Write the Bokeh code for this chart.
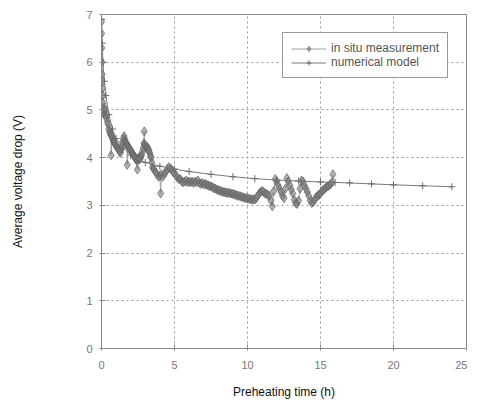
from bokeh.plotting import figure
from bokeh.models import Legend, LegendItem
from bokeh.embed import file_html
from bokeh.resources import INLINE

# in situ measurement (time in h, voltage drop in V)
t_meas = [0.00, 0.01, 0.02, 0.03, 0.04, 0.05, 0.06, 0.08, 0.10, 0.12, 0.15, 0.18, 0.20, 0.25,
          0.30, 0.35, 0.40, 0.45, 0.50, 0.55,
          0.60, 0.65, 0.66, 0.70, 0.75, 0.80, 0.85, 0.90, 0.95, 1.00, 1.05, 1.10, 1.15, 1.20,
          1.25, 1.30, 1.35, 1.40, 1.45, 1.50, 1.55, 1.60, 1.65, 1.70, 1.75, 1.76, 1.80, 1.85,
          1.90, 1.95, 2.00, 2.05, 2.10, 2.15, 2.20, 2.25, 2.30, 2.35, 2.40, 2.45, 2.46, 2.50,
          2.55, 2.60, 2.65, 2.70, 2.75, 2.80, 2.85, 2.90, 2.93, 2.95, 3.00, 3.05, 3.10, 3.15,
          3.20, 3.25, 3.30, 3.35, 3.40, 3.45, 3.50, 3.55, 3.60,
          3.70, 3.80, 3.90,
          4.00, 4.05, 4.10, 4.20, 4.30, 4.40, 4.50, 4.60, 4.70, 4.80, 4.90, 5.00, 5.10, 5.20, 5.30,
          5.40, 5.50, 5.60, 5.70, 5.80, 5.90, 6.00, 6.10, 6.20, 6.30, 6.40, 6.50, 6.60, 6.70, 6.80,
          6.90, 7.00, 7.10, 7.20, 7.30, 7.40, 7.50, 7.60, 7.70, 7.80, 7.90, 8.00, 8.10, 8.20, 8.30,
          8.40, 8.50, 8.60, 8.70, 8.80, 8.90, 9.00, 9.10, 9.20, 9.30, 9.40, 9.50, 9.60, 9.70, 9.80,
          9.90, 10.00, 10.10, 10.20, 10.30, 10.40, 10.50, 10.60, 10.70, 10.80, 10.90, 11.00, 11.10,
          11.20, 11.30, 11.40, 11.50, 11.60, 11.70, 11.80, 11.90, 12.00, 12.10, 12.20, 12.30, 12.40,
          12.50, 12.60, 12.70, 12.80, 12.90, 13.00, 13.10, 13.20, 13.30, 13.40, 13.50, 13.60, 13.70,
          13.80, 13.90, 14.00, 14.10, 14.20, 14.30, 14.40, 14.50, 14.60, 14.70, 14.80, 14.90, 15.00,
          15.10, 15.20, 15.30, 15.40, 15.50, 15.60, 15.70, 15.80, 15.85]
v_meas = [6.85, 6.60, 6.30, 6.00, 5.75, 5.60, 5.45, 5.30, 5.15, 5.00, 4.95, 5.05, 4.90, 5.00,
          4.85, 4.90, 4.75, 4.70, 4.60, 4.55,
          4.50, 4.47, 4.05, 4.45, 4.40, 4.35, 4.33, 4.30, 4.28, 4.25, 4.22, 4.20, 4.18, 4.15,
          4.12, 4.10, 4.18, 4.25, 4.33, 4.40, 4.45, 4.38, 4.33, 4.30, 4.28, 3.85, 4.25, 4.22,
          4.20, 4.18, 4.15, 4.12, 4.10, 4.08, 4.05, 4.02, 4.00, 3.97, 3.95, 3.93, 3.75, 3.98,
          4.00, 3.96, 3.98, 4.02, 4.06, 4.12, 4.20, 4.30, 4.55, 4.28, 4.25, 4.22, 4.20, 4.22,
          4.18, 4.15, 4.10, 4.05, 4.00, 3.90, 3.80, 3.77, 3.75,
          3.70, 3.65, 3.60,
          3.62, 3.25, 3.65, 3.60, 3.65, 3.70, 3.75, 3.80, 3.78, 3.75, 3.70, 3.68, 3.62, 3.58, 3.55,
          3.55, 3.50, 3.48, 3.50, 3.52, 3.48, 3.50, 3.48, 3.50, 3.47, 3.50, 3.48, 3.52, 3.47, 3.45,
          3.47, 3.44, 3.45, 3.43, 3.42, 3.40, 3.40, 3.38, 3.36, 3.35, 3.33, 3.32, 3.30, 3.30, 3.28,
          3.28, 3.27, 3.26, 3.27, 3.25, 3.25, 3.24, 3.23, 3.22, 3.20, 3.20, 3.19, 3.18, 3.17, 3.16,
          3.15, 3.15, 3.14, 3.13, 3.12, 3.13, 3.12, 3.15, 3.20, 3.25, 3.28, 3.30, 3.28,
          3.25, 3.24, 3.22, 3.20, 3.10, 2.98, 3.30, 3.55, 3.50, 3.42, 3.35, 3.28, 3.20,
          3.15, 3.35, 3.57, 3.50, 3.42, 3.33, 3.25, 3.12, 3.05, 3.03, 3.10, 3.35, 3.52,
          3.50, 3.42, 3.35, 3.28, 3.20, 3.10, 3.05, 3.07, 3.12, 3.17, 3.20, 3.22, 3.25,
          3.30, 3.32, 3.35, 3.38, 3.40, 3.42, 3.45, 3.48, 3.65]

# numerical model
t_mod = [0.0, 0.05, 0.1, 0.2, 0.3, 0.5, 0.75, 1.0, 1.5, 2.0, 3.0, 4.0, 5.0, 6.0, 7.5, 9.0,
         10.5, 12.0, 13.5, 15.0, 16.0, 17.0, 18.5, 20.0, 22.0, 24.0]
v_mod = [6.90, 6.40, 6.00, 5.60, 5.30, 4.90, 4.60, 4.40, 4.20, 4.05, 3.90, 3.82, 3.76, 3.71,
         3.65, 3.60, 3.56, 3.53, 3.51, 3.49, 3.48, 3.47, 3.45, 3.43, 3.41, 3.39]

x_ticks = [0, 5, 10, 15, 20, 25]
y_ticks = [0, 1, 2, 3, 4, 5, 6, 7]

p = figure(width=467, height=401, x_range=(0, 25), y_range=(0, 7),
           output_backend="svg", toolbar_location=None,
           min_border_left=101, min_border_right=1, min_border_top=14, min_border_bottom=53)

r_ml = p.line(t_meas, v_meas, line_color="#a0a0a0", line_width=1)
r_ms = p.scatter(t_meas, v_meas, marker="diamond", size=9, line_color="#666666",
                 line_alpha=0.8, fill_color="#7a7a7a", fill_alpha=0.55, line_width=1)
r_nl = p.line(t_mod, v_mod, line_color="#7a7a7a", line_width=1)
r_ns = p.scatter(t_mod, v_mod, marker="cross", size=7, line_color="#6a6a6a", line_width=1)

legend = Legend(items=[
    LegendItem(label="in situ measurement", renderers=[r_ml, r_ms]),
    LegendItem(label="numerical model", renderers=[r_nl, r_ns]),
], location=(181, 270))
legend.margin = 0
legend.padding = 8
legend.spacing = 0
legend.label_height = 13
legend.glyph_height = 13
legend.glyph_width = 35
legend.label_standoff = 5
legend.label_text_font = "Liberation Sans"
legend.label_text_font_size = "12px"
legend.label_text_color = "#555555"
legend.border_line_color = "#333333"
legend.border_line_width = 1.5
legend.background_fill_color = "white"
legend.background_fill_alpha = 1.0
p.add_layout(legend)

p.outline_line_color = "#888888"
p.xaxis.ticker = x_ticks
p.yaxis.ticker = y_ticks
for ax in (p.xaxis, p.yaxis):
    ax.axis_line_color = "#888888"
    ax.major_tick_line_color = "#888888"
    ax.minor_tick_line_color = None
    ax.major_tick_in = 4
    ax.major_tick_out = 2
    ax.major_label_text_font = "Liberation Sans"
    ax.major_label_text_font_size = "11px"
    ax.major_label_text_color = "#777777"
    ax.axis_label_text_font = "Liberation Sans"
    ax.axis_label_text_font_size = "12px"
    ax.axis_label_text_font_style = "normal"
    ax.axis_label_text_color = "#111111"

p.xaxis.axis_label = "Preheating time (h)"
p.yaxis.axis_label = "Average voltage drop (V)"
p.xaxis.major_label_standoff = 10
p.yaxis.major_label_standoff = 7
p.xaxis.axis_label_standoff = 13
p.yaxis.axis_label_standoff = 58

for g in (p.xgrid, p.ygrid):
    g.grid_line_color = "#999999"
    g.grid_line_dash = "2 3"
    g.grid_line_width = 1

open("out.html", "w").write(file_html(p, INLINE))
